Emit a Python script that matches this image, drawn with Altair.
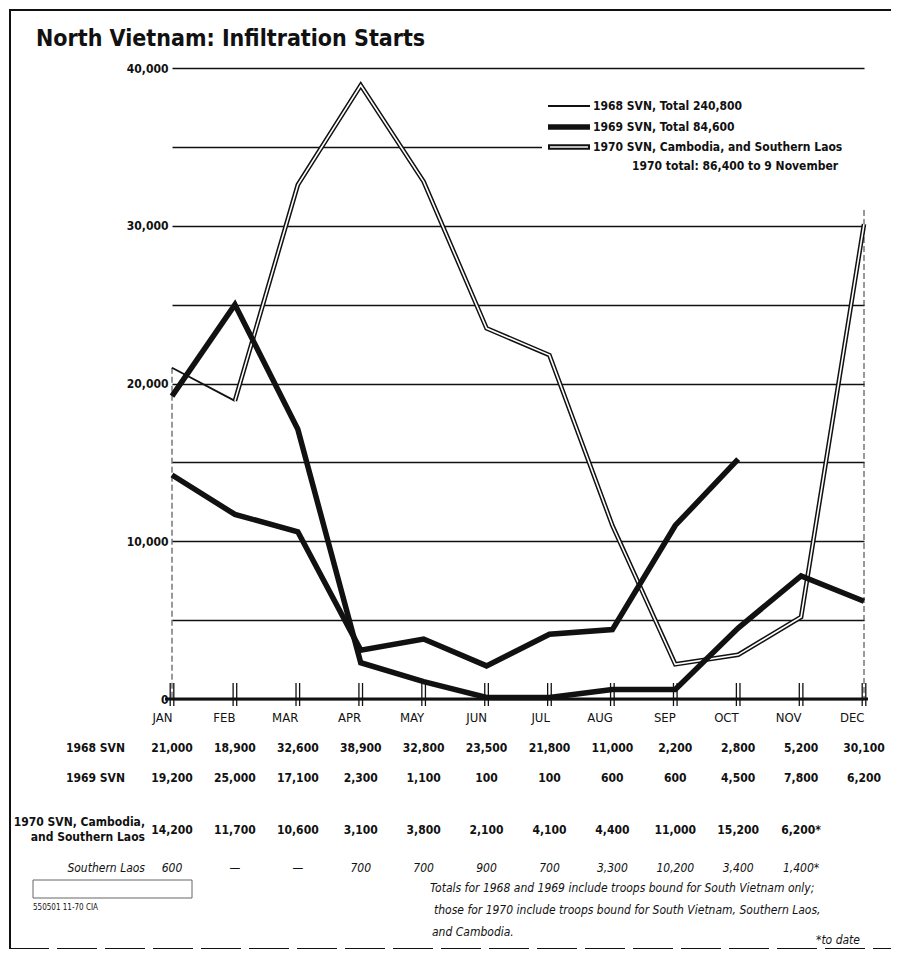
import altair as alt
import pandas as pd

months = ["JAN", "FEB", "MAR", "APR", "MAY", "JUN", "JUL", "AUG", "SEP", "OCT", "NOV", "DEC"]
svn_1968 = [21000, 18900, 32600, 38900, 32800, 23500, 21800, 11000, 2200, 2800, 5200, 30100]
svn_1969 = [19200, 25000, 17100, 2300, 1100, 100, 100, 600, 600, 4500, 7800, 6200]
all_1970 = [14200, 11700, 10600, 3100, 3800, 2100, 4100, 4400, 11000, 15200]
row_1968 = ["21,000", "18,900", "32,600", "38,900", "32,800", "23,500", "21,800", "11,000", "2,200", "2,800", "5,200", "30,100"]
row_1969 = ["19,200", "25,000", "17,100", "2,300", "1,100", "100", "100", "600", "600", "4,500", "7,800", "6,200"]
row_1970 = ["14,200", "11,700", "10,600", "3,100", "3,800", "2,100", "4,100", "4,400", "11,000", "15,200", "6,200*"]
row_laos = ["600", "—", "—", "700", "700", "900", "700", "3,300", "10,200", "3,400", "1,400*"]
y_ticks = [0, 5000, 10000, 15000, 20000, 25000, 30000, 35000, 40000]

title = "North Vietnam: Infiltration Starts"
legend_labels = ["1968 SVN, Total 240,800", "1969 SVN, Total 84,600",
                 "1970 SVN, Cambodia, and Southern Laos"]
legend_note = "1970 total: 86,400 to 9 November"
row_names = ["1968 SVN", "1969 SVN", "1970 SVN, Cambodia,", "and Southern Laos", "Southern Laos"]
foot_lines = ["Totals for 1968 and 1969 include troops bound for South Vietnam only;",
              "those for 1970 include troops bound for South Vietnam, Southern Laos,",
              "and Cambodia."]
foot_star = "*to date"
code_label = "550501  11-70 CIA"

FONT = "Liberation Sans Narrow, Arial Narrow, DejaVu Sans Condensed, Liberation Sans, sans-serif"
W, H = 692, 631

xs = alt.Scale(type="point", domain=months, padding=0)
ys = alt.Scale(domain=[0, 40000], nice=False)


def series(vals, ms=None):
    ms = ms if ms is not None else months[:len(vals)]
    return pd.DataFrame({"month": ms, "value": vals})


X = alt.X("month:N", scale=xs, sort=months, title=None,
          axis=alt.Axis(labelFont=FONT, labelFontSize=13, labelColor="#111", labelPadding=18,
                        domain=False, ticks=False, labelAngle=0))
Y = alt.Y("value:Q", scale=ys, title=None,
          axis=alt.Axis(values=y_ticks, grid=True, gridColor="#111", gridWidth=1.3,
                        domain=False, ticks=False, labelFont=FONT, labelFontSize=12,
                        labelFontWeight="bold", labelColor="#111", labelPadding=4,
                        labelExpr="datum.value % 10000 == 0 ? format(datum.value, ',') : ''"))

base_month = pd.DataFrame({"month": months})

# vertical dashed side lines
side = alt.Chart(pd.DataFrame({"month": ["JAN", "DEC"], "top": [21000, 31000], "bot": [0, 0]})).mark_rule(
    color="#333", strokeWidth=1, strokeDash=[6, 3]).encode(
    x=alt.X("month:N", scale=xs, sort=months), y=alt.Y("top:Q", scale=ys), y2="bot:Q")

# 1968: thin first segment, then double line
l68a = alt.Chart(series(svn_1968[:2])).mark_line(color="#111", strokeWidth=1.8).encode(x=X, y=Y)
l68b = alt.Chart(series(svn_1968[1:], months[1:])).mark_line(
    color="#111", strokeWidth=4.6, strokeJoin="miter").encode(x=X, y=Y)
l68c = alt.Chart(series(svn_1968[1:], months[1:])).mark_line(
    color="white", strokeWidth=1.6, strokeJoin="miter").encode(x=X, y=Y)
l69 = alt.Chart(series(svn_1969)).mark_line(color="#111", strokeWidth=5.5, strokeJoin="miter",
                                            strokeCap="butt").encode(x=X, y=Y)
l70 = alt.Chart(series(all_1970)).mark_line(color="#111", strokeWidth=5.5, strokeJoin="miter",
                                            strokeCap="butt").encode(x=X, y=Y)

# baseline and double tick marks
baseline = alt.Chart(base_month.head(1)).mark_rule(color="#111", strokeWidth=3).encode(
    x=alt.value(-7), x2=alt.value(W + 4), y=alt.value(H))
ticks_l = alt.Chart(base_month).mark_rule(color="#111", strokeWidth=1.3, xOffset=-1.8).encode(
    x=alt.X("month:N", scale=xs, sort=months), y=alt.value(H - 16), y2=alt.value(H + 7))
ticks_r = alt.Chart(base_month).mark_rule(color="#111", strokeWidth=1.3, xOffset=1.8).encode(
    x=alt.X("month:N", scale=xs, sort=months), y=alt.value(H - 16), y2=alt.value(H + 7))


def row(vals, ypix, italic=False):
    df = pd.DataFrame({"month": months[:len(vals)], "label": vals})
    return alt.Chart(df).mark_text(font=FONT, fontSize=12, fontWeight="normal" if italic else "bold",
                                   fontStyle="italic" if italic else "normal",
                                   color="#111", baseline="middle").encode(
        x=alt.X("month:N", scale=xs, sort=months), y=alt.value(ypix), text="label:N")


rows = [row(row_1968, 680), row(row_1969, 710), row(row_1970, 762), row(row_laos, 800, italic=True)]


def label(txt, x, y, size=12, weight="bold", style="normal", align="left", baseline="middle"):
    return alt.Chart(pd.DataFrame({"t": [txt]})).mark_text(
        font=FONT, fontSize=size, fontWeight=weight, fontStyle=style, align=align,
        baseline=baseline, color="#111").encode(x=alt.value(x), y=alt.value(y), text="t:N")


names = [label(row_names[0], -47, 680, align="right"),
         label(row_names[1], -47, 710, align="right"),
         label(row_names[2], -27, 754, align="right"),
         label(row_names[3], -27, 769, align="right"),
         label(row_names[4], -27, 800, weight="normal", style="italic", align="right")]

title_mark = label(title, -136, -22, size=23, baseline="alphabetic")

# legend box
one = pd.DataFrame({"a": [0]})
leg_bg = alt.Chart(one).mark_rect(color="white").encode(
    x=alt.value(370), x2=alt.value(693), y=alt.value(27), y2=alt.value(108))
leg_thin = alt.Chart(one).mark_rule(color="#111", strokeWidth=1.8).encode(
    x=alt.value(376), x2=alt.value(418), y=alt.value(38))
leg_thick = alt.Chart(one).mark_rule(color="#111", strokeWidth=5.5).encode(
    x=alt.value(376), x2=alt.value(418), y=alt.value(59))
leg_dbl1 = alt.Chart(one).mark_rule(color="#111", strokeWidth=5.5).encode(
    x=alt.value(376), x2=alt.value(418), y=alt.value(79))
leg_dbl2 = alt.Chart(one).mark_rule(color="#bbb", strokeWidth=2.2).encode(
    x=alt.value(378), x2=alt.value(416), y=alt.value(79))
leg_text = [label(legend_labels[0], 421, 38), label(legend_labels[1], 421, 59),
            label(legend_labels[2], 421, 79), label(legend_note, 460, 98)]

# footnotes
foot = [label(foot_lines[0], 258, 820, weight="normal", style="italic"),
        label(foot_lines[1], 262, 842, weight="normal", style="italic"),
        label(foot_lines[2], 260, 864, weight="normal", style="italic"),
        label(foot_star, 688, 872, weight="normal", style="italic", align="right")]

box = alt.Chart(one).mark_rect(fill="white", stroke="#666", strokeWidth=1).encode(
    x=alt.value(-139), x2=alt.value(20), y=alt.value(812), y2=alt.value(830))
code = label(code_label, -139, 840, size=8, weight="normal")

# frame
frame_l = alt.Chart(one).mark_rule(color="#111", strokeWidth=2).encode(
    x=alt.value(-162), y=alt.value(-59), y2=alt.value(882))
frame_t = alt.Chart(one).mark_rule(color="#111", strokeWidth=2).encode(
    x=alt.value(-163), x2=alt.value(W + 27), y=alt.value(-58))
frame_b = alt.Chart(one).mark_rule(color="#111", strokeWidth=2, strokeDash=[40, 8]).encode(
    x=alt.value(-163), x2=alt.value(W + 27), y=alt.value(881))

chart = alt.layer(
    side, l68a, l68b, l68c, l69, l70, baseline, ticks_l, ticks_r,
    *rows, *names, title_mark,
    leg_bg, leg_thin, leg_thick, leg_dbl1, leg_dbl2, *leg_text,
    *foot, box, code, frame_l, frame_t, frame_b
).properties(
    width=W, height=H,
    autosize=alt.AutoSizeParams(type="none"),
    padding={"left": 164, "top": 60, "right": 27, "bottom": 250},
    background="white"
).configure_view(stroke=None)

chart.save("out.html", embed_options={"renderer": "svg", "actions": False})
